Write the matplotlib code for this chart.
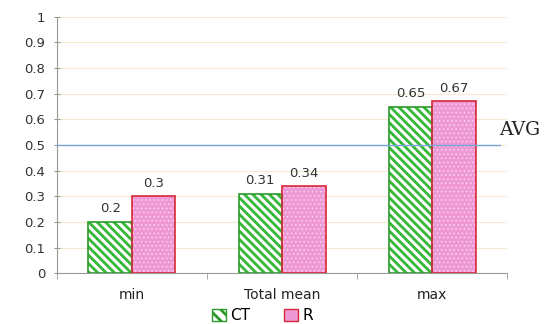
import matplotlib.pyplot as plt
import numpy as np

categories = ["min", "Total mean", "max"]
ct_values = [0.2, 0.31, 0.65]
r_values = [0.3, 0.34, 0.67]
avg_value = 0.5
y_ticks = [0, 0.1, 0.2, 0.3, 0.4, 0.5, 0.6, 0.7, 0.8, 0.9, 1]
y_tick_labels = ["0", "0.1", "0.2", "0.3", "0.4", "0.5", "0.6", "0.7", "0.8", "0.9", "1"]

plt.rcParams["hatch.linewidth"] = 2.0

fig = plt.figure(figsize=(5.53, 3.24), dpi=100)
ax = fig.add_axes([0.103, 0.157, 0.814, 0.791])

x = np.arange(len(categories))
width = 0.29
text_color = "#333333"

# gridlines behind everything
for t in y_ticks[1:]:
    ax.axhline(t, color="#f3ebcc", linewidth=0.8, zorder=0)

# CT: white bars with green diagonal stripes
ax.bar(x - width / 2, ct_values, width, facecolor="white", edgecolor="#35b835",
       hatch="\\\\\\\\", linewidth=0, zorder=2)
ax.bar(x - width / 2, ct_values, width, facecolor="none", edgecolor="#2a9a2a",
       linewidth=1.2, zorder=3)

# R: pink bars with small white dots and red outline
r_fill = ax.bar(x + width / 2, r_values, width, facecolor="#ee98d4", edgecolor="#fbd6ef",
                hatch="....", linewidth=0, zorder=2)
for patch in r_fill:
    patch.set_hatch_linewidth(0.6)
ax.bar(x + width / 2, r_values, width, facecolor="none", edgecolor="#d8283a",
       linewidth=1.2, zorder=3)

for xi, v in zip(x, ct_values):
    ax.text(xi - width / 2, v + 0.025, f"{v:g}", ha="center", va="bottom",
            fontsize=9.5, color=text_color)
for xi, v in zip(x, r_values):
    ax.text(xi + width / 2, v + 0.025, f"{v:g}", ha="center", va="bottom",
            fontsize=9.5, color=text_color)

# average line
ax.axhline(avg_value, xmin=0, xmax=0.985, color="#78a6d6", linewidth=1.0, zorder=4)
ax.text(2.45, avg_value + 0.06, "AVG", fontsize=13.5, family="DejaVu Serif",
        color="#222222", ha="left", va="center", clip_on=False)

ax.set_xlim(-0.5, 2.5)
ax.set_ylim(0, 1)
ax.set_yticks(y_ticks)
ax.set_yticklabels(y_tick_labels, fontsize=9.5, color=text_color)
ax.set_xticks(x)
ax.set_xticklabels(categories, fontsize=10, color="#222222")
ax.tick_params(axis="x", length=0, pad=11)
ax.set_xticks([-0.5, 0.5, 1.5, 2.5], minor=True)
ax.tick_params(axis="x", which="minor", length=4, color="#999999", direction="out")
ax.tick_params(axis="y", length=5, color="#999999", direction="inout", pad=6)

for side in ["top", "right"]:
    ax.spines[side].set_visible(False)
for side in ["left", "bottom"]:
    ax.spines[side].set_color("#999999")

# legend below the axis
handles = [
    plt.Rectangle((0, 0), 1, 1, facecolor="white", edgecolor="#2a9a2a", hatch="\\\\\\"),
    plt.Rectangle((0, 0), 1, 1, facecolor="#ee98d4", edgecolor="#d8283a"),
]
fig.legend(handles, ["CT", "R"], loc="lower center", bbox_to_anchor=(0.475, -0.04),
           ncol=2, frameon=False, fontsize=11, handlelength=0.9, handleheight=0.9,
           handletextpad=0.3, columnspacing=2.2)

fig.savefig("out.png", dpi=100)
